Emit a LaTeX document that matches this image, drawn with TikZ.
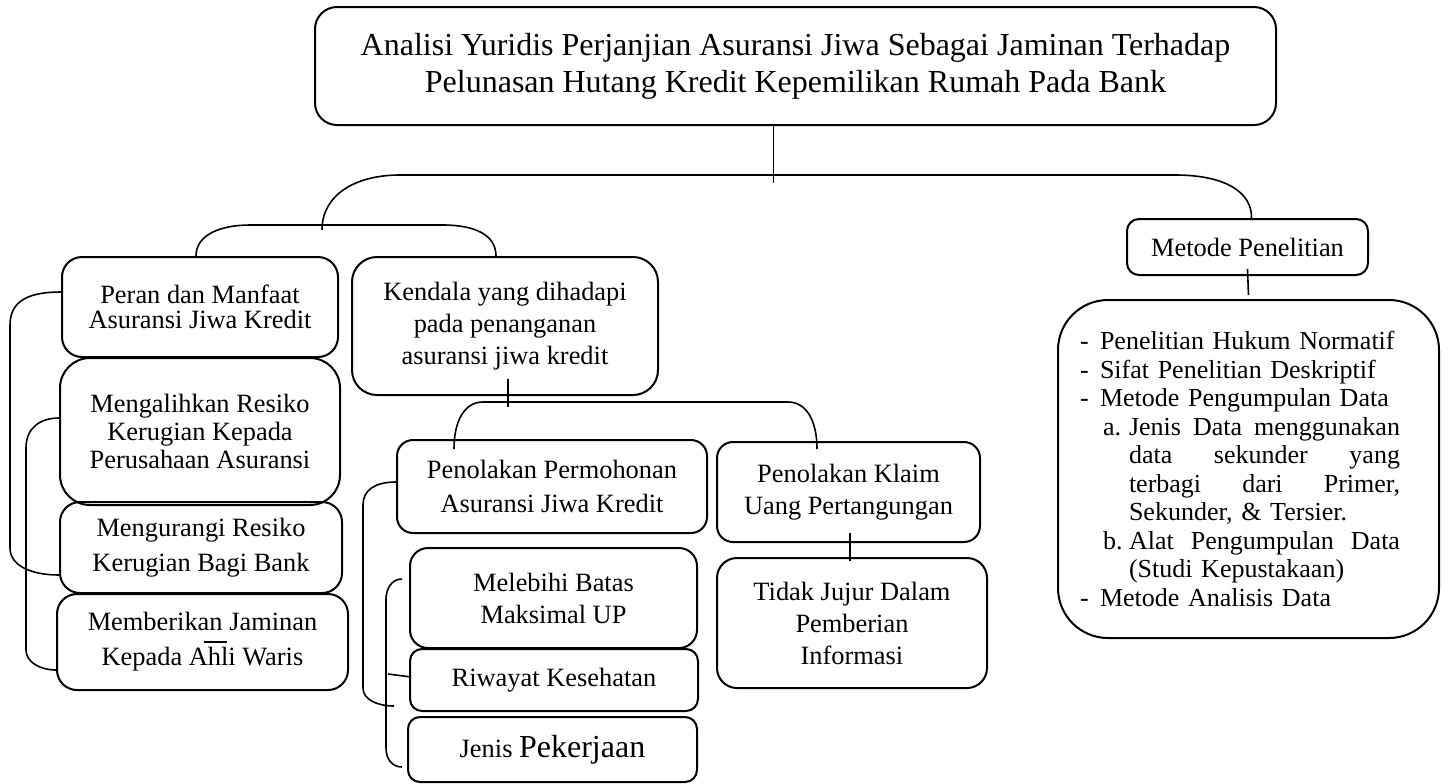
\documentclass[tikz,border=0pt]{standalone}
\usepackage{fontspec}
\setmainfont{Liberation Serif}
\begin{document}
\begin{tikzpicture}[
    x=0.5pt, y=-0.5pt,
    asjBox/.style={draw, line width=1pt, rounded corners=9pt, align=center,
        inner sep=0pt, font=\fontsize{13.2}{16}\selectfont},
    asjLink/.style={line width=0.8pt},
    asjThin/.style={line width=0.5pt}
]
    \useasboundingbox (0,0) rectangle (1448,783);

    % judul
    \node[asjBox, minimum width=480.5pt, minimum height=59pt, rounded corners=11pt,
        font=\fontsize{16}{18.5}\selectfont] (judul) at (795.5,66)
        {Analisi Yuridis Perjanjian Asuransi Jiwa Sebagai Jaminan Terhadap\\
         Pelunasan Hutang Kredit Kepemilikan Rumah Pada Bank};

    % kolom kiri
    \node[asjBox, minimum width=138pt, minimum height=50pt, rounded corners=10pt,
        font=\fontsize{13.2}{12.8}\selectfont] (peran) at (200,307)
        {Peran dan Manfaat\\Asuransi Jiwa Kredit};
    \node[asjBox, minimum width=140pt, minimum height=73.5pt, rounded corners=15pt,
        font=\fontsize{13.2}{13.8}\selectfont] (alih) at (200,431.5)
        {Mengalihkan Resiko\\Kerugian Kepada\\Perusahaan Asuransi};
    \node[asjBox, minimum width=141pt, minimum height=45.5pt, rounded corners=10pt,
        font=\fontsize{13.2}{17.5}\selectfont] (kurang) at (201,547.5)
        {Mengurangi Resiko\\Kerugian Bagi Bank};
    \node[asjBox, minimum width=145.5pt, minimum height=48pt, rounded corners=10pt,
        font=\fontsize{13.2}{17.5}\selectfont] (jamin) at (202.5,642)
        {Memberikan Jaminan\\Kepada Ahli Waris};

    % kolom tengah
    \node[asjBox, minimum width=153pt, minimum height=69pt, rounded corners=12.5pt] (kendala) at (505,326)
        {Kendala yang dihadapi\\pada penanganan\\asuransi jiwa kredit};
    \node[asjBox, minimum width=155pt, minimum height=46.5pt, rounded corners=8pt,
        font=\fontsize{13.2}{17}\selectfont] (tolakMohon) at (552,486.5)
        {Penolakan Permohonan\\Asuransi Jiwa Kredit};
    \node[asjBox, minimum width=131.5pt, minimum height=50pt, rounded corners=8pt] (tolakKlaim) at (848.5,492)
        {Penolakan Klaim\\Uang Pertangungan};
    \node[asjBox, minimum width=135pt, minimum height=65pt, rounded corners=10pt] (jujur) at (852,623)
        {Tidak Jujur Dalam\\Pemberian\\Informasi};
    \node[asjBox, minimum width=143.5pt, minimum height=50pt] (batas) at (553.5,598)
        {Melebihi Batas\\Maksimal UP};
    \node[asjBox, minimum width=144pt, minimum height=31pt, rounded corners=6pt] (riwayat) at (554,680)
        {Riwayat Kesehatan};
    \node[asjBox, minimum width=144.5pt, minimum height=32.5pt, rounded corners=6pt] (kerja) at (552.5,749.5)
        {Jenis {\fontsize{16}{16}\selectfont Pekerjaan}};

    % kolom kanan
    \node[asjBox, minimum width=120.5pt, minimum height=28pt, rounded corners=6pt] (metode) at (1247.5,247)
        {Metode Penelitian};
    \node[asjBox, minimum width=190.5pt, minimum height=169pt, rounded corners=25pt,
        text width=168.5pt, align=left, font=\fontsize{13}{14.28}\selectfont] (rincian) at (1248.5,469)
        {\makebox[10pt][l]{-}Penelitian Hukum Normatif\\
         \makebox[10pt][l]{-}Sifat Penelitian Deskriptif\\
         \makebox[10pt][l]{-}Metode Pengumpulan Data\\
         \hspace*{11.5pt}\makebox[13pt][l]{a.}\hbox to 135.5pt{Jenis\hfill Data\hfill menggunakan}\\
         \hspace*{24.5pt}\hbox to 135.5pt{data\hfill sekunder\hfill yang}\\
         \hspace*{24.5pt}\hbox to 135.5pt{terbagi\hfill dari\hfill Primer,}\\
         \hspace*{24.5pt}Sekunder, \& Tersier.\\
         \hspace*{11.5pt}\makebox[13pt][l]{b.}\hbox to 135.5pt{Alat\hfill Pengumpulan\hfill Data}\\
         \hspace*{24.5pt}(Studi Kepustakaan)\\
         \makebox[10pt][l]{-}Metode Analisis Data};

    % percabangan utama
    \coordinate (hub) at (773,183);
    \coordinate (braceL) at (322,230);
    \draw[asjThin] ([xshift=-11.25pt]judul.south) -- (hub);
    \draw[asjLink] (braceL) .. controls (322,195) and (355,175) .. (400,175)
        -- (1175,175) .. controls (1225,175) and (1252,192) .. ([xshift=2pt]metode.north);
    \draw[asjLink] ([xshift=-2pt]peran.north) .. controls (196,235) and (220,225) .. (250,225)
        -- (443,225) .. controls (475,225) and (496,235) .. ([xshift=-4.5pt]kendala.north);

    % cabang kendala
    \coordinate (hubKendala) at (508,407);
    \draw[asjLink] ([xshift=1.5pt,yshift=8.5pt]kendala.south) -- (hubKendala);
    \draw[asjLink] ([xshift=-49pt,yshift=-5pt]tolakMohon.north) .. controls (454,420) and (465,402) .. (483,402)
        -- (788,402) .. controls (806,402) and (817,420) .. ([xshift=-15.75pt,yshift=-4pt]tolakKlaim.north);
    \draw[asjLink] ([xshift=0.75pt,yshift=5pt]tolakKlaim.south) -- ([xshift=-1pt,yshift=-2pt]jujur.north);
    \draw[asjLink] ([yshift=3.5pt]metode.south) -- ([yshift=2pt]rincian.north);

    % kurung kiri
    \draw[asjLink] ([yshift=7.5pt]peran.west) .. controls (30,292) and (10,300) .. (10,325)
        -- (10,548) .. controls (10,565) and (30,575) .. ([yshift=-13.75pt]kurang.west);
    \draw[asjLink] ([yshift=6.75pt]alih.west) .. controls (40,418) and (26,428) .. (26,448)
        -- (26,650) .. controls (26,662) and (40,670) .. ([yshift=-14pt]jamin.west);
    \draw[asjLink] (204,642) -- (227,642);

    % kurung tengah
    \draw[asjLink] ([yshift=2.25pt]tolakMohon.west) .. controls (375,482) and (363,490) .. (363,505)
        -- (363,688) .. controls (363,700) and (378,706) .. ([xshift=-7.5pt,yshift=-13pt]riwayat.west);
    \draw[asjLink] ([xshift=-3.5pt,yshift=9.5pt]batas.west) .. controls (392,579) and (386,588) .. (386,600)
        -- (386,748) .. controls (386,760) and (393,767) .. ([xshift=-2.5pt,yshift=-8.75pt]kerja.west);
    \draw[asjLink] ([xshift=-10.5pt,yshift=3pt]riwayat.west) -- ([xshift=1pt,yshift=1.5pt]riwayat.west);
\end{tikzpicture}
\end{document}
